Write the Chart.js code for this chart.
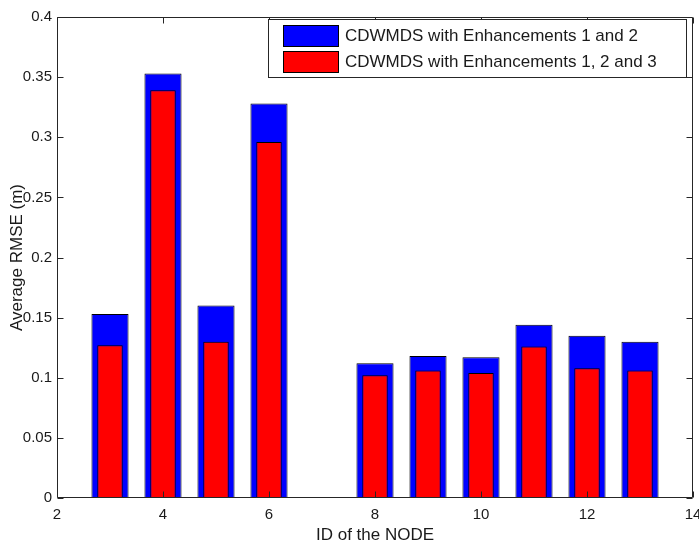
<!DOCTYPE html>
<html><head><meta charset="utf-8">
<script src="https://cdn.jsdelivr.net/npm/chart.js@4/dist/chart.umd.min.js"></script>
<style>html,body{margin:0;padding:0;background:#fff}#wrap{width:699px;height:547px}</style>
</head><body><div id="wrap"><canvas id="c" width="699" height="547"></canvas></div>
<script>
const nodeIds = [3, 4, 5, 6, 8, 9, 10, 11, 12, 13];
const rmseEnh12 = [0.153, 0.353, 0.160, 0.328, 0.112, 0.118, 0.117, 0.144, 0.135, 0.130];
const rmseEnh123 = [0.127, 0.339, 0.130, 0.296, 0.102, 0.106, 0.104, 0.126, 0.108, 0.106];
const seriesLabels = ['CDWMDS with Enhancements 1 and 2', 'CDWMDS with Enhancements 1, 2 and 3'];
const xTicks = [2, 4, 6, 8, 10, 12, 14];
const yTicks = [0, 0.05, 0.1, 0.15, 0.2, 0.25, 0.3, 0.35, 0.4];
const xTitle = 'ID of the NODE';
const yTitle = 'Average RMSE (m)';

const FONT = "'Liberation Sans', Arial, Helvetica, sans-serif";
Chart.defaults.font.family = FONT;
Chart.defaults.color = '#1a1a1a';

const framePlugin = {
  id: 'matlabFrame',
  afterDatasetsDraw(chart) {
    const ctx = chart.ctx, a = chart.chartArea;
    const xs = chart.scales.x, ys = chart.scales.y;
    const L = Math.round(a.left) + 0.5, R = Math.round(a.right) - 0.5;
    const T = Math.round(a.top) + 0.5, B = Math.round(a.bottom) - 0.5;
    const tl = 6;
    ctx.save();
    ctx.strokeStyle = '#262626';
    ctx.lineWidth = 1;
    ctx.beginPath();
    ctx.rect(L, T, R - L, B - T);
    xs.ticks.forEach(t => {
      const px = Math.round(xs.getPixelForValue(t.value)) + 0.5;
      ctx.moveTo(px, B); ctx.lineTo(px, B - tl);
      ctx.moveTo(px, T); ctx.lineTo(px, T + tl);
    });
    ys.ticks.forEach(t => {
      const py = Math.round(ys.getPixelForValue(t.value)) + 0.5;
      ctx.moveTo(L, py); ctx.lineTo(L + tl, py);
      ctx.moveTo(R, py); ctx.lineTo(R - tl, py);
    });
    ctx.stroke();

    // legend box (MATLAB style, inside the axes, upper right)
    const bx = 268.5, by = 19.5, bw = 418, bh = 58;
    ctx.fillStyle = '#fff';
    ctx.fillRect(bx, by, bw, bh);
    ctx.strokeStyle = '#262626';
    ctx.strokeRect(bx, by, bw, bh);
    ctx.font = '17px ' + FONT;
    ctx.textBaseline = 'middle';
    ctx.textAlign = 'left';
    chart.data.datasets.forEach((ds, i) => {
      const cy = by + 16 + i * 26;
      ctx.fillStyle = ds.backgroundColor;
      ctx.fillRect(283.5, cy - 10, 55, 21);
      ctx.strokeStyle = '#000';
      ctx.strokeRect(283.5, cy - 10, 55, 21);
      ctx.fillStyle = '#1a1a1a';
      ctx.fillText(ds.label, 345, cy + 1);
    });
    ctx.restore();
  }
};

new Chart(document.getElementById('c'), {
  type: 'bar',
  data: {
    datasets: [
      {
        label: seriesLabels[0],
        data: nodeIds.map((x, i) => ({ x: x, y: rmseEnh12[i] })),
        backgroundColor: '#0000ff', borderColor: '#000', borderWidth: 1, borderSkipped: false,
        barPercentage: 0.7, categoryPercentage: 1, grouped: false, order: 2
      },
      {
        label: seriesLabels[1],
        data: nodeIds.map((x, i) => ({ x: x, y: rmseEnh123[i] })),
        backgroundColor: '#ff0000', borderColor: '#000', borderWidth: 1, borderSkipped: false,
        barPercentage: 0.48, categoryPercentage: 1, grouped: false, order: 1
      }
    ]
  },
  options: {
    responsive: false,
    animation: false,
    devicePixelRatio: 1,
    layout: { padding: { left: 0, right: 6, top: 17, bottom: 0 } },
    plugins: { legend: { display: false }, tooltip: { enabled: false } },
    scales: {
      x: {
        type: 'linear', min: 2, max: 14, offset: false,
        afterBuildTicks: s => { s.ticks = xTicks.map(v => ({ value: v })); },
        afterFit: s => { s.height = 49; s.paddingRight = 0; s.paddingLeft = 0; },
        grid: { display: false, drawTicks: false },
        border: { display: false },
        ticks: { font: { size: 15 }, padding: 8, maxRotation: 0, autoSkip: false },
        title: { display: true, text: xTitle, font: { size: 17 }, padding: { top: 0, bottom: 1 } }
      },
      y: {
        type: 'linear', min: 0, max: 0.4,
        afterBuildTicks: s => { s.ticks = yTicks.map(v => ({ value: v })); },
        afterFit: s => { s.width = 57; s.paddingTop = 0; s.paddingBottom = 0; },
        grid: { display: false, drawTicks: false },
        border: { display: false },
        ticks: { font: { size: 15 }, padding: 5, autoSkip: false, callback: v => String(+Number(v).toFixed(2)) },
        title: { display: true, text: yTitle, font: { size: 17 }, padding: { top: 7, bottom: 0 } }
      }
    }
  },
  plugins: [framePlugin]
});
</script></body></html>
